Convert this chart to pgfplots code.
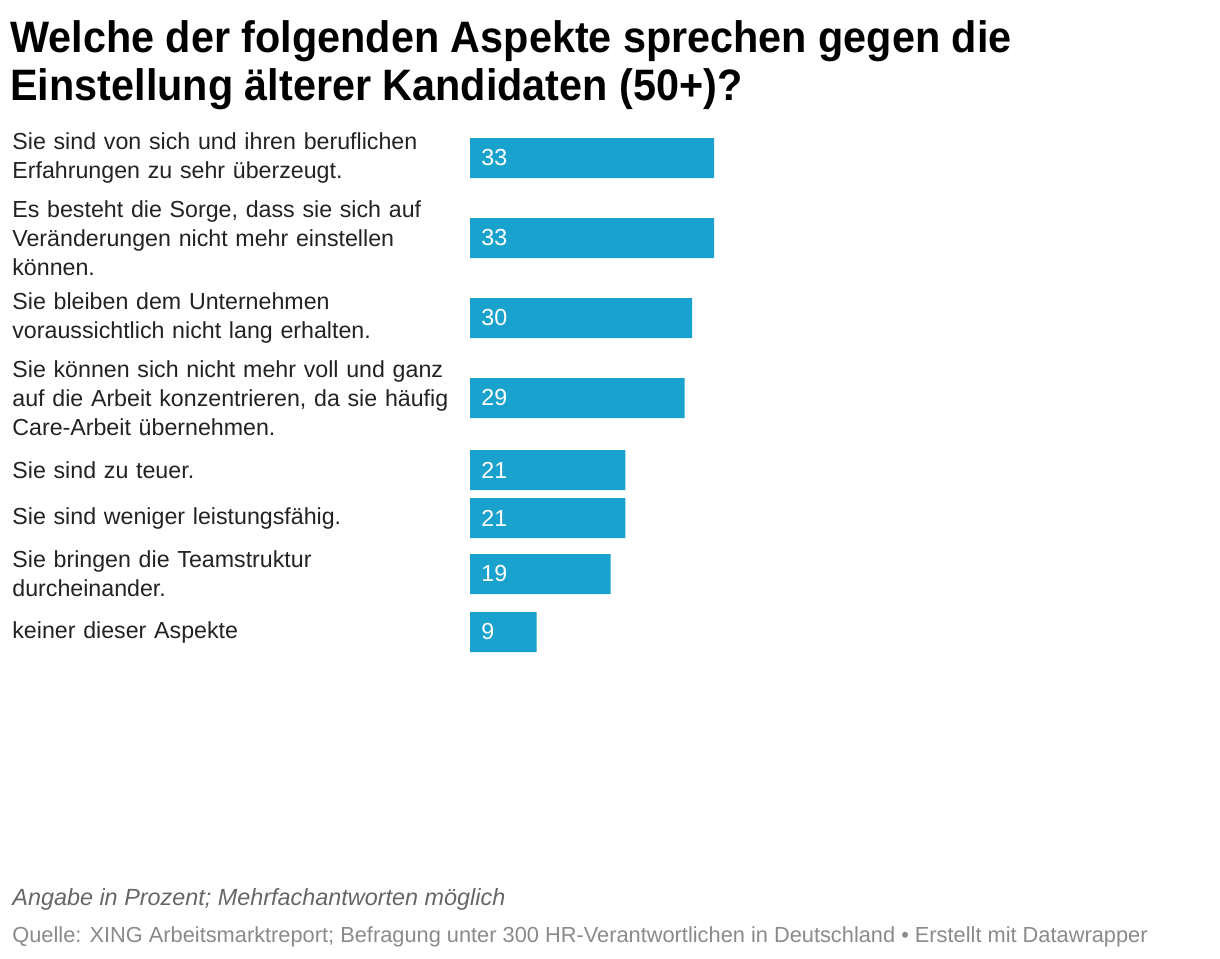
\documentclass[border=0pt]{standalone}
\usepackage{fontspec}
\setmainfont{Liberation Sans}
\newfontfamily\titlefont[FakeStretch=0.94]{Liberation Sans}
\usepackage{pgfplots}
\pgfplotsset{compat=1.18}
\definecolor{barblue}{HTML}{1AA2CF}
\definecolor{labtxt}{HTML}{222222}
\definecolor{notetxt}{HTML}{666666}
\definecolor{srctxt}{HTML}{8A8A8A}
\begin{document}
\begin{tikzpicture}
\path[use as bounding box] (0,0) rectangle (610pt,-479pt);
\node[anchor=base west, inner sep=0, font=\titlefont\fontsize{22}{24}\selectfont\bfseries] at (5pt,-26pt) {Welche der folgenden Aspekte sprechen gegen die};
\node[anchor=base west, inner sep=0, font=\titlefont\fontsize{22}{24}\selectfont\bfseries] at (5pt,-50pt) {Einstellung älterer Kandidaten (50+)?};
\begin{axis}[
  at={(235pt,0pt)}, anchor=north west,
  scale only axis,
  x=3.7pt, y=0.5pt,
  xmin=0, xmax=50, ymin=-958, ymax=0,
  axis line style={draw=none},
  major tick length=0pt,
  xtick=\empty,
  ytick={-632,-574,-518,-470,-398,-318,-238,-158},
  yticklabels={
    {keiner dieser Aspekte},
    {Sie bringen die Teamstruktur\\durcheinander.},
    {Sie sind weniger leistungsfähig.},
    {Sie sind zu teuer.},
    {Sie können sich nicht mehr voll und ganz\\auf die Arbeit konzentrieren, da sie häufig\\Care-Arbeit übernehmen.},
    {Sie bleiben dem Unternehmen\\voraussichtlich nicht lang erhalten.},
    {Es besteht die Sorge, dass sie sich auf\\Veränderungen nicht mehr einstellen\\können.},
    {Sie sind von sich und ihren beruflichen\\Erfahrungen zu sehr überzeugt.}
  },
  yticklabel style={anchor=west, xshift=-229pt, inner sep=0pt, text width=228pt, align=left,
    font=\fontsize{11.6}{14.4}\selectfont, text=labtxt},
  clip=false,
]
\addplot[xbar, fill=barblue, draw=none, bar width=20pt, bar shift=0pt]
  coordinates {(33,-158) (33,-238) (30,-318) (29,-398) (21,-470) (21,-518) (19,-574) (9,-632)};
\addplot[draw=none, mark=none, nodes near coords, point meta=explicit symbolic,
  every node near coord/.append style={anchor=west, inner sep=0pt, xshift=5.5pt, text=white, font=\fontsize{11.6}{13}\selectfont}]
  coordinates {(0,-158) [33] (0,-238) [33] (0,-318) [30] (0,-398) [29] (0,-470) [21] (0,-518) [21] (0,-574) [19] (0,-632) [9]};
\end{axis}
\node[anchor=base west, inner sep=0, text=notetxt, font=\fontsize{11.7}{13}\selectfont\itshape] at (6pt,-452.5pt) {Angabe in Prozent; Mehrfachantworten möglich};
\node[anchor=base west, inner sep=0, text=srctxt, font=\fontsize{10.9}{12}\selectfont] at (6pt,-471pt) {Quelle: XING Arbeitsmarktreport; Befragung unter 300 HR-Verantwortlichen in Deutschland • Erstellt mit Datawrapper};
\end{tikzpicture}
\end{document}
